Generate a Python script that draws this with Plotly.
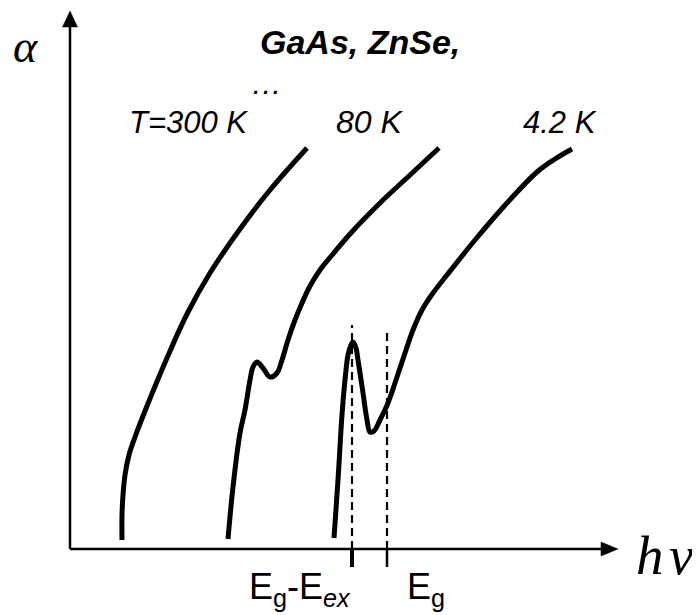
import plotly.graph_objects as go

# ---- data (arbitrary units: photon energy hν, absorption α) ----
hv_300K = [0.52, 0.52, 0.53, 0.55, 0.59, 0.65, 0.77, 0.97, 1.17, 1.40, 1.70, 2.00, 2.37]
alpha_300K = [0.09, 0.34, 0.54, 0.74, 0.94, 1.12, 1.43, 1.91, 2.35, 2.76, 3.20, 3.59, 4.01]

hv_80K = [1.58, 1.63, 1.70, 1.75, 1.80, 1.83, 1.87, 1.93, 2.00, 2.07, 2.12, 2.18,
          2.25, 2.32, 2.40, 2.50, 2.63, 2.80, 3.10, 3.40, 3.69]
alpha_80K = [0.10, 0.62, 1.16, 1.39, 1.69, 1.82, 1.87, 1.81, 1.72, 1.76, 1.89, 2.09,
             2.29, 2.46, 2.63, 2.79, 2.95, 3.15, 3.46, 3.74, 4.01]

hv_4K = [2.64, 2.68, 2.72, 2.75, 2.78, 2.81, 2.83, 2.86, 2.88, 2.93, 2.97, 3.00,
         3.04, 3.10, 3.18, 3.27, 3.35, 3.43, 3.52, 3.63, 3.77, 4.05, 4.37, 4.67, 4.85, 5.02]
alpha_4K = [0.11, 0.69, 1.34, 1.69, 1.94, 2.04, 2.07, 2.01, 1.89, 1.56, 1.29, 1.17,
            1.18, 1.29, 1.46, 1.72, 1.96, 2.19, 2.39, 2.56, 2.74, 3.09, 3.46, 3.77, 3.90, 4.00]

E_ex_pos = 2.82      # Eg - Eex
E_g_pos = 3.17       # Eg
E_ex_top = 2.24
E_g_top = 2.16

temp_labels = ["T=300 K", "80 K", "4.2 K"]

# ---- layout geometry (page pixels; the page body has an 8px margin) ----
W, H = 700, 615
OFF = 8
X0, Y0, S = 70, 549, 100.0   # pixel of origin, pixels per unit


def px(x):
    return (x - X0) / S


def py(y):
    return (Y0 - y) / S


fig = go.Figure()
line_style = dict(color="black", width=5, shape="spline", smoothing=1.0)
for hv, al in [(hv_300K, alpha_300K), (hv_80K, alpha_80K), (hv_4K, alpha_4K)]:
    fig.add_trace(go.Scatter(x=hv, y=al, mode="lines", line=line_style,
                             hoverinfo="skip", showlegend=False))

shapes = []
# axes
shapes.append(dict(type="line", xref="x", yref="y", x0=0, y0=0, x1=0, y1=py(26),
                   line=dict(color="black", width=2.5)))
shapes.append(dict(type="line", xref="x", yref="y", x0=0, y0=0, x1=px(603), y1=0,
                   line=dict(color="black", width=2.5)))
# arrowheads
shapes.append(dict(type="path", xref="x", yref="y",
                   path=f"M {px(62.5)} {py(27)} L {px(77.5)} {py(27)} L {px(70)} {py(11)} Z",
                   fillcolor="black", line=dict(color="black", width=0.5)))
shapes.append(dict(type="path", xref="x", yref="y",
                   path=f"M {px(601)} {py(542)} L {px(601)} {py(556)} L {px(618)} {py(549)} Z",
                   fillcolor="black", line=dict(color="black", width=0.5)))
# dashed markers
shapes.append(dict(type="line", xref="x", yref="y", x0=E_ex_pos, x1=E_ex_pos, y0=0, y1=E_ex_top,
                   line=dict(color="black", width=2.2, dash="8px,5px")))
shapes.append(dict(type="line", xref="x", yref="y", x0=E_g_pos, x1=E_g_pos, y0=0, y1=E_g_top,
                   line=dict(color="black", width=2.2, dash="8px,5px")))
# ticks below axis
shapes.append(dict(type="line", xref="x", yref="y", x0=E_ex_pos, x1=E_ex_pos, y0=0, y1=py(567),
                   line=dict(color="black", width=4)))
shapes.append(dict(type="line", xref="x", yref="y", x0=E_g_pos, x1=E_g_pos, y0=0, y1=py(567),
                   line=dict(color="black", width=2.5)))

sans = "Liberation Sans, Arial, sans-serif"
serif = "Liberation Serif, Times New Roman, serif"
ann = []


def txt(text, x, y, size, family=sans, xanchor="center", yanchor="middle"):
    ann.append(dict(text=text, x=px(x), y=py(y), xref="x", yref="y", showarrow=False,
                    xanchor=xanchor, yanchor=yanchor,
                    font=dict(size=size, family=family, color="black")))


txt("<i>α</i>", 25, 46, 46, serif)
txt("<b><i>GaAs, ZnSe,</i></b>", 360, 42, 34)
txt("<i>…</i>", 266, 83, 31)
txt(f"<i>{temp_labels[0]}</i>", 188, 122, 31)
txt(f"<i>{temp_labels[1]}</i>", 369, 122, 32)
txt(f"<i>{temp_labels[2]}</i>", 560, 122, 31)
txt("E<sub>g</sub>-E<sub><i>ex</i></sub>", 353, 589, 36, xanchor="right")
txt("E<sub>g</sub>", 405, 589, 36, xanchor="left")
txt("<i>h</i>", 650, 555, 55, serif)
txt("<i>ν</i>", 681, 555, 55, serif)

fig.update_layout(
    width=W - OFF, height=H - OFF, autosize=False,
    margin=dict(l=0, r=0, t=0, b=0),
    paper_bgcolor="white", plot_bgcolor="white",
    xaxis=dict(range=[px(OFF), px(W)], visible=False, fixedrange=True),
    yaxis=dict(range=[py(H), py(OFF)], visible=False, fixedrange=True),
    shapes=shapes, annotations=ann, showlegend=False,
)

fig.write_html("out.html", config={"displayModeBar": False})
